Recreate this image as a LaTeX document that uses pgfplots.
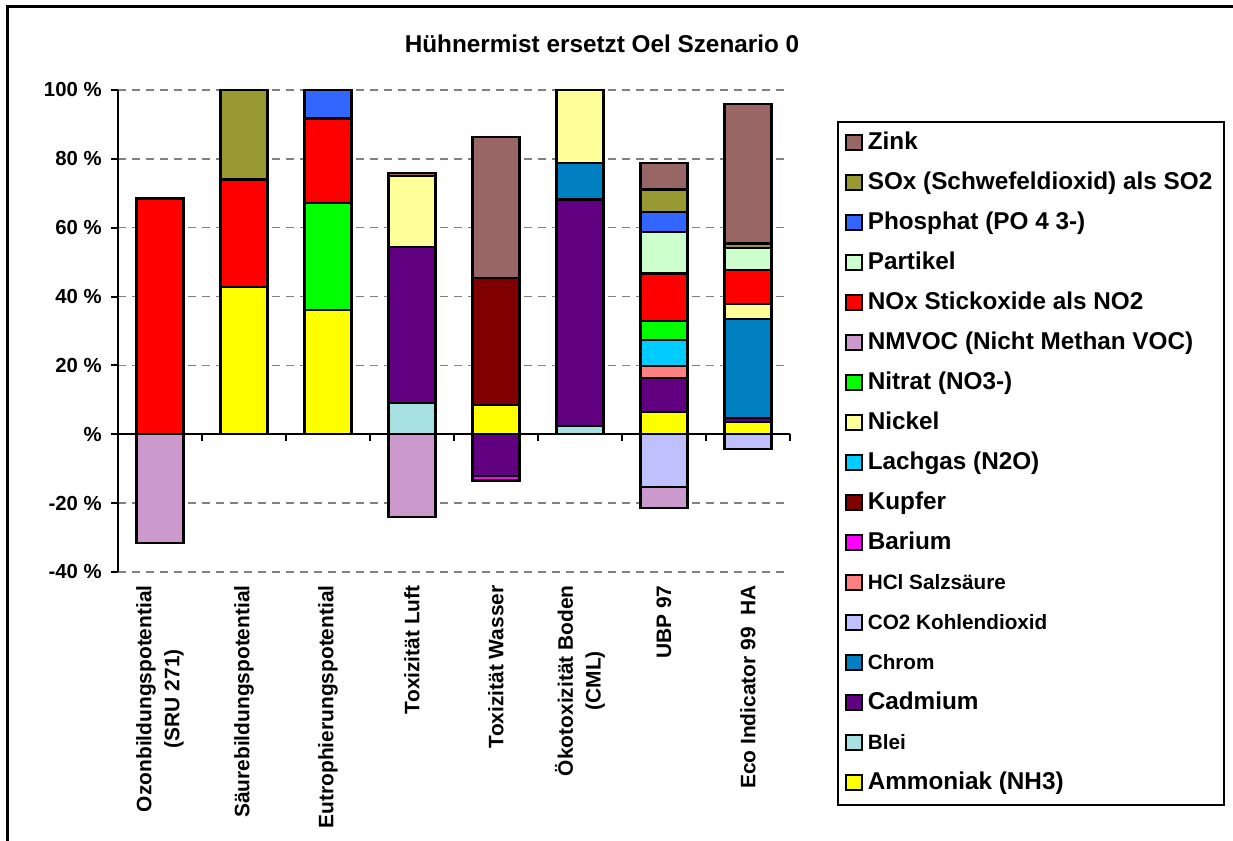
\documentclass[border=0pt]{standalone}
\usepackage{fontspec}
\setmainfont{Liberation Sans}
\usepackage{pgfplots}
\pgfplotsset{compat=1.18}
\definecolor{cZink}{RGB}{153,102,102}
\definecolor{cSOx}{RGB}{153,153,51}
\definecolor{cPhosphat}{RGB}{51,102,255}
\definecolor{cPartikel}{RGB}{204,255,204}
\definecolor{cNOx}{RGB}{255,0,0}
\definecolor{cNMVOC}{RGB}{204,153,204}
\definecolor{cNitrat}{RGB}{0,255,0}
\definecolor{cNickel}{RGB}{255,255,153}
\definecolor{cLachgas}{RGB}{0,204,255}
\definecolor{cKupfer}{RGB}{128,0,0}
\definecolor{cBarium}{RGB}{255,0,255}
\definecolor{cHCl}{RGB}{255,128,128}
\definecolor{cCO}{RGB}{192,192,255}
\definecolor{cChrom}{RGB}{0,128,192}
\definecolor{cCadmium}{RGB}{96,0,128}
\definecolor{cBlei}{RGB}{166,224,224}
\definecolor{cAmmoniak}{RGB}{255,255,0}
\newcommand{\sm}{\fontsize{10.4}{12}\selectfont}
\begin{document}
\begin{tikzpicture}
\useasboundingbox (0,0) rectangle (616.5bp,420.5bp);
\draw[line width=1.5bp] (3.5bp,-20bp) -- (3.5bp,417bp) -- (640bp,417bp);
\node[anchor=base, font=\fontsize{12.2}{15}\selectfont\bfseries] at (301bp,394bp) {Hühnermist ersetzt Oel Szenario 0};
\begin{axis}[
  at={(59bp,134.5bp)}, anchor=south west,
  scale only axis, width=336bp, height=241bp,
  xmin=-0.5, xmax=7.5, ymin=-40, ymax=100,
  ybar stacked, bar width=23.5bp,
  axis x line*=bottom, axis y line*=left,
  x axis line style={draw=none},
  xtick={0,...,7},
  xticklabels={Ozonbildungspotential\\(SRU 271),Säurebildungspotential,Eutrophierungspotential,Toxizität Luft,Toxizität Wasser,Ökotoxizität Boden\\(CML),UBP 97,Eco Indicator 99\ \ HA},
  xtick style={draw=none},
  xticklabel style={rotate=90, anchor=east, align=center, inner sep=0pt, xshift=-6.5bp, font=\fontsize{10.5}{14}\selectfont\bfseries},
  ytick={-40,-20,0,20,40,60,80,100},
  yticklabels={-40 \%,-20 \%,\%,20 \%,40 \%,60 \%,80 \%,100 \%},
  yticklabel style={font=\fontsize{10.2}{12}\selectfont\bfseries, inner sep=0pt, xshift=-4.5bp},
  ytick align=outside, ytick style={black, line width=1bp}, major tick length=3.5bp,
  y axis line style={line width=1bp},
  ymajorgrids, major grid style={dash pattern=on 4bp off 3bp, color=gray, line width=0.7bp},
  every axis plot/.append style={draw=black, line width=1.1bp},
  legend image code/.code={\draw[#1, draw=black, line width=0.9bp] (0bp,-3.1bp) rectangle (8bp,4.1bp);},
  reverse legend,
  legend cell align=left,
  legend style={at={(1.06994,0.93568)}, anchor=north west, draw=black, line width=1bp,
    inner xsep=3.5bp, inner ysep=5bp, row sep=8.6bp,
    font=\fontsize{12.2}{14}\selectfont\bfseries,
    nodes={inner xsep=2.5bp, inner ysep=0pt, text height=8.8bp, text depth=2.6bp}},
]
\addplot[fill=cAmmoniak] coordinates {(0,0) (1,42.8) (2,36.0) (3,0) (4,8.4) (5,0) (6,6.5) (7,3.6)};
\addlegendentry{Ammoniak (NH3)}
\addplot[fill=cBlei] coordinates {(0,0) (1,0) (2,0) (3,9.2) (4,0) (5,2.3) (6,0) (7,0)};
\addlegendentry{\sm Blei}
\addplot[fill=cCadmium] coordinates {(0,0) (1,0) (2,0) (3,45.3) (4,0) (5,65.9) (6,9.9) (7,1.2)};
\addlegendentry{Cadmium}
\addplot[fill=cChrom] coordinates {(0,0) (1,0) (2,0) (3,0) (4,0) (5,10.7) (6,0) (7,28.8)};
\addlegendentry{\sm Chrom}
\addplot[fill=cCO] coordinates {(0,0) (1,0) (2,0) (3,0) (4,0) (5,0) (6,0) (7,0)};
\addlegendentry{\sm CO2 Kohlendioxid}
\addplot[fill=cHCl] coordinates {(0,0) (1,0) (2,0) (3,0) (4,0) (5,0) (6,3.4) (7,0)};
\addlegendentry{\sm HCl Salzsäure}
\addplot[fill=cBarium] coordinates {(0,0) (1,0) (2,0) (3,0) (4,0) (5,0) (6,0) (7,0)};
\addlegendentry{Barium}
\addplot[fill=cKupfer] coordinates {(0,0) (1,0) (2,0) (3,0) (4,37.0) (5,0) (6,0) (7,0)};
\addlegendentry{Kupfer}
\addplot[fill=cLachgas] coordinates {(0,0) (1,0) (2,0) (3,0) (4,0) (5,0) (6,7.5) (7,0)};
\addlegendentry{Lachgas (N2O)}
\addplot[fill=cNickel] coordinates {(0,0) (1,0) (2,0) (3,20.6) (4,0) (5,21.1) (6,0) (7,4.2)};
\addlegendentry{Nickel}
\addplot[fill=cNitrat] coordinates {(0,0) (1,0) (2,31.2) (3,0) (4,0) (5,0) (6,5.6) (7,0)};
\addlegendentry{Nitrat (NO3-)}
\addplot[fill=cNMVOC] coordinates {(0,0) (1,0) (2,0) (3,0) (4,0) (5,0) (6,0) (7,0)};
\addlegendentry{NMVOC (Nicht Methan VOC)}
\addplot[fill=cNOx] coordinates {(0,68.5) (1,31.2) (2,24.5) (3,0) (4,0) (5,0) (6,13.8) (7,9.9)};
\addlegendentry{NOx Stickoxide als NO2}
\addplot[fill=cPartikel] coordinates {(0,0) (1,0) (2,0) (3,0) (4,0) (5,0) (6,12.1) (7,6.3)};
\addlegendentry{Partikel}
\addplot[fill=cPhosphat] coordinates {(0,0) (1,0) (2,8.3) (3,0) (4,0) (5,0) (6,5.8) (7,0)};
\addlegendentry{Phosphat (PO 4 3-)}
\addplot[fill=cSOx] coordinates {(0,0) (1,26.0) (2,0) (3,0) (4,0) (5,0) (6,6.5) (7,1.4)};
\addlegendentry{SOx (Schwefeldioxid) als SO2}
\addplot[fill=cZink] coordinates {(0,0) (1,0) (2,0) (3,0.8) (4,41.0) (5,0) (6,7.6) (7,40.5)};
\addlegendentry{Zink}
\end{axis}
\begin{axis}[
  at={(59bp,134.5bp)}, anchor=south west,
  scale only axis, width=336bp, height=241bp,
  xmin=-0.5, xmax=7.5, ymin=-40, ymax=100,
  ybar stacked, bar width=23.5bp,
  axis x line*=middle, axis y line=none,
  xtick={0.5,1.5,2.5,3.5,4.5,5.5,6.5,7.5}, xticklabels={},
  ytick=\empty,
  xtick align=outside, major tick length=3.5bp,
  x axis line style={line width=1.1bp},
  xtick style={black, line width=1bp},
  every axis plot/.append style={draw=black, line width=1.1bp},
]
\addplot[fill=cCadmium] coordinates {(0,0) (1,0) (2,0) (3,0) (4,-12.2) (5,0) (6,0) (7,0)};
\addplot[fill=cCO] coordinates {(0,0) (1,0) (2,0) (3,0) (4,0) (5,0) (6,-15.3) (7,-4.2)};
\addplot[fill=cBarium] coordinates {(0,0) (1,0) (2,0) (3,0) (4,-1.2) (5,0) (6,0) (7,0)};
\addplot[fill=cNMVOC] coordinates {(0,-31.6) (1,0) (2,0) (3,-24.0) (4,0) (5,0) (6,-6.0) (7,0)};
\end{axis}
\end{tikzpicture}
\end{document}
